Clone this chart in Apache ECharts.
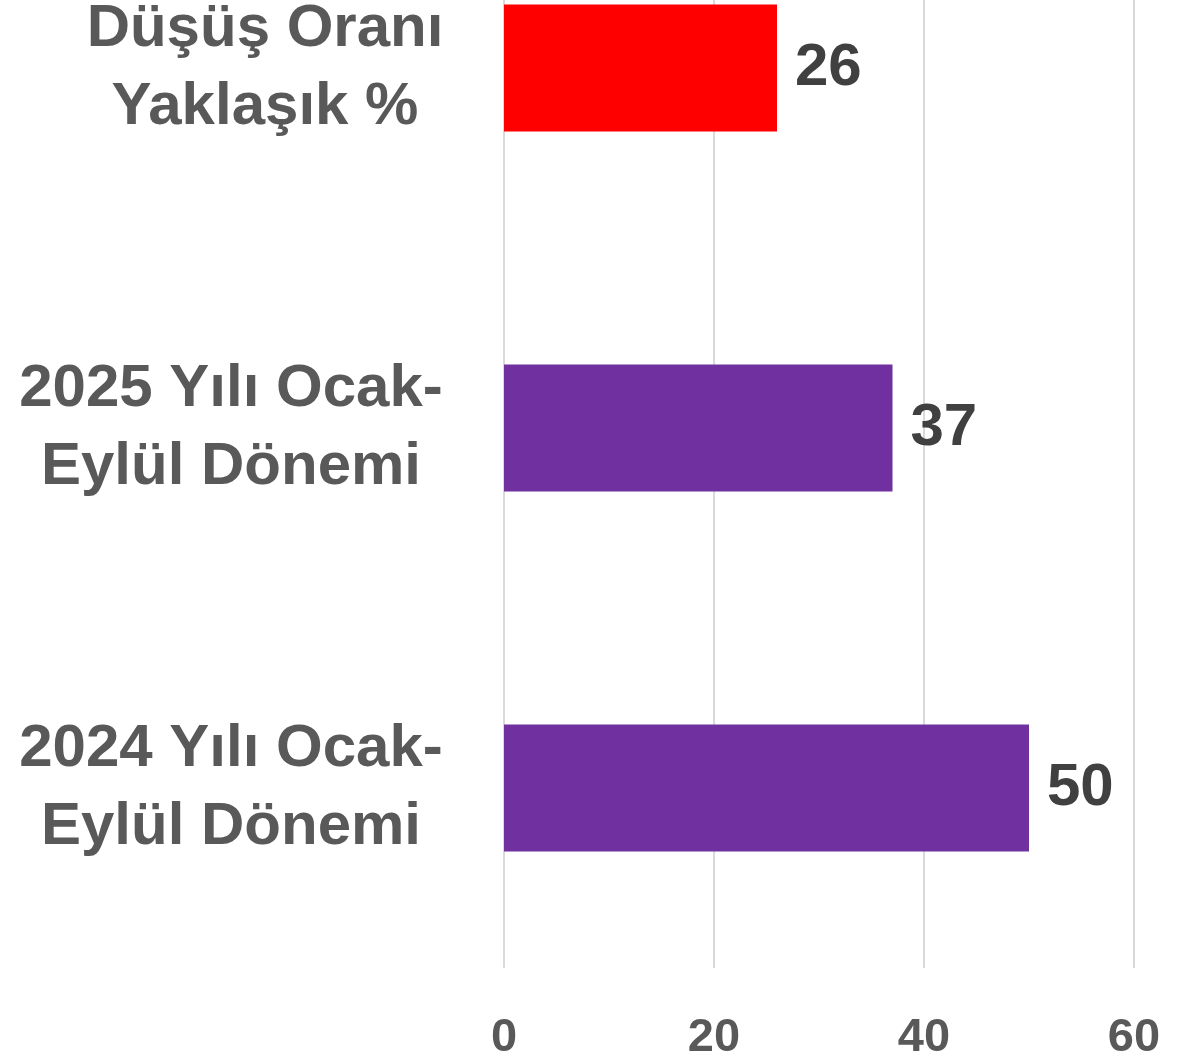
<!DOCTYPE html>
<html>
<head>
<meta charset="utf-8">
<script src="https://cdn.jsdelivr.net/npm/echarts@6/dist/echarts.min.js"></script>
<style>
    html, body { margin: 0; padding: 0; background: #fff; overflow: hidden; }
    #wrap { width: 1199px; height: 1059px; overflow: hidden; position: relative; }
    /* grafik üstten kırpılmış: kutu yukarı kaydırıldı */
    #chart { width: 1199px; height: 1171px; position: absolute; left: 0; top: -112px; }
</style>
</head>
<body>
<div id="wrap"><div id="chart"></div></div>
<script>
// kategoriler (alttan üste)
var categories = ['2024 Yılı Ocak-\nEylül Dönemi', '2025 Yılı Ocak-\nEylül Dönemi', 'Düşüş Oranı\nYaklaşık %'];
var values = [50, 37, 26];
var xTicks = [0, 20, 40, 60];

var purple = '#7030A0';
var red = '#FF0000';

var chart = echarts.init(document.getElementById('chart'));

var seriesData = values.map(function (v, i) {
    return {
        value: v,
        itemStyle: { color: i === values.length - 1 ? red : purple }
    };
});

var labelFont = {
    fontSize: 60,
    lineHeight: 78,
    fontWeight: 'bold',
    fontFamily: 'Liberation Sans',
    color: '#595959'
};

var option = {
    animation: false,
    grid: {
        left: 504,
        right: 65,
        top: 0,
        bottom: 91,
        outerBoundsMode: 'none'
    },
    xAxis: {
        type: 'value',
        min: xTicks[0],
        max: xTicks[xTicks.length - 1],
        interval: 20,
        axisLine: { show: false },
        axisTick: { show: false },
        splitLine: { lineStyle: { color: '#d9d9d9', width: 2 } },
        axisLabel: {
            margin: 47,
            fontSize: 47,
            fontWeight: 'bold',
            fontFamily: 'Liberation Sans',
            color: '#595959'
        }
    },
    yAxis: {
        type: 'category',
        data: categories,
        axisLine: { show: false },
        axisTick: { show: false },
        axisLabel: Object.assign({
            margin: 273,
            align: 'center',
            // üstteki etiket biraz sağa kayık
            formatter: function (val, idx) {
                return idx === categories.length - 1 ? '{s|' + val + '}' : '{n|' + val + '}';
            },
            rich: {
                n: Object.assign({}, labelFont),
                s: Object.assign({ padding: [0, 0, 0, 68] }, labelFont)
            }
        }, labelFont)
    },
    series: [{
        type: 'bar',
        data: seriesData,
        barWidth: '35.3%',
        label: {
            show: true,
            position: 'right',
            distance: 18,
            fontSize: 60,
            fontWeight: 'bold',
            fontFamily: 'Liberation Sans',
            color: '#404040'
        }
    }]
};

chart.setOption(option);
</script>
</body>
</html>
